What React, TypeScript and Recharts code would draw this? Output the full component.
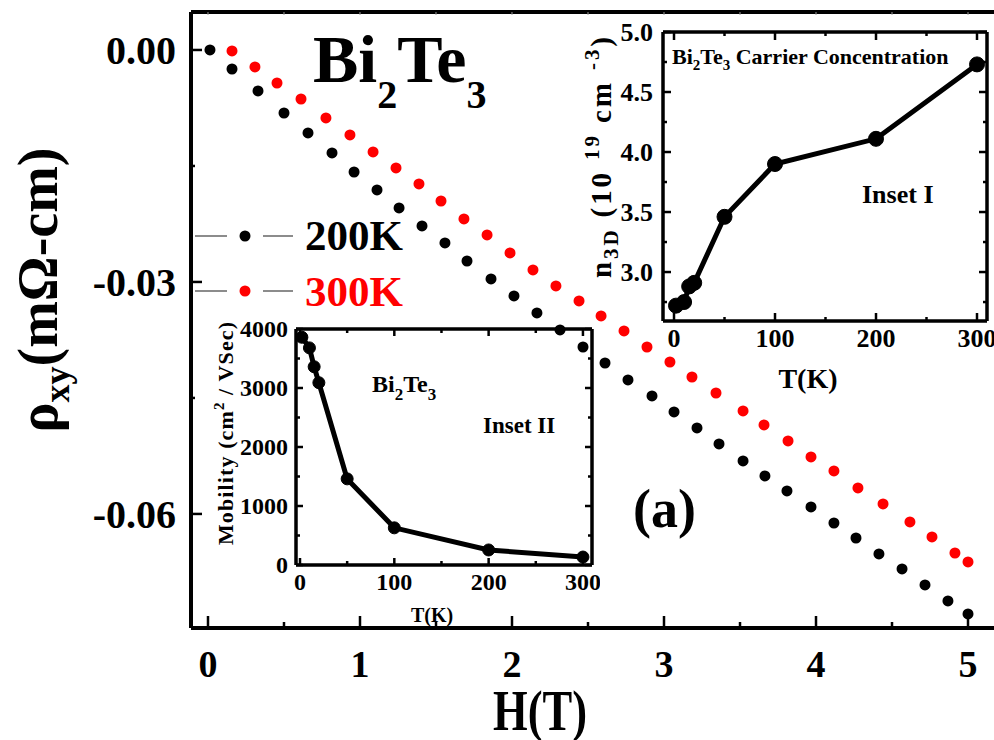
import React from 'react'
import { ScatterChart, Scatter, XAxis, YAxis, ReferenceLine, LineChart, Line } from 'recharts'

// Hall resistivity vs field
const fieldH200 = [0.013, 0.158, 0.329, 0.5, 0.658, 0.816, 0.961, 1.112, 1.257, 1.408, 1.559, 1.704, 1.862, 2.013, 2.164, 2.316, 2.467, 2.612, 2.763, 2.921, 3.066, 3.217, 3.362, 3.52, 3.664, 3.809, 3.967, 4.118, 4.263, 4.414, 4.566, 4.717, 4.868, 5.0]
const rho200 = [0, -0.00246, -0.0053, -0.00815, -0.01073, -0.01332, -0.01578, -0.0181, -0.02043, -0.02276, -0.02496, -0.02729, -0.02961, -0.03181, -0.03401, -0.03621, -0.03841, -0.04048, -0.04267, -0.04474, -0.04681, -0.04888, -0.05095, -0.05315, -0.05509, -0.05703, -0.0591, -0.06117, -0.06311, -0.06517, -0.06711, -0.06918, -0.07125, -0.07293]
const fieldH300 = [0.158, 0.309, 0.454, 0.612, 0.776, 0.934, 1.086, 1.237, 1.388, 1.533, 1.684, 1.836, 1.987, 2.138, 2.289, 2.441, 2.586, 2.737, 2.888, 3.039, 3.184, 3.342, 3.52, 3.658, 3.816, 3.967, 4.118, 4.276, 4.441, 4.618, 4.763, 4.914, 5.0]
const rho300 = [-0.00013, -0.0022, -0.00427, -0.00634, -0.00879, -0.01099, -0.01319, -0.01526, -0.01733, -0.01953, -0.02185, -0.02392, -0.02625, -0.02845, -0.03052, -0.03246, -0.0344, -0.03634, -0.03841, -0.04035, -0.04229, -0.04436, -0.04668, -0.04849, -0.05056, -0.05263, -0.05444, -0.05664, -0.05871, -0.06104, -0.06298, -0.06505, -0.06621]

// insets
const tempK = [2, 10, 15, 20, 50, 100, 200, 300]
const carrierN = [2.72, 2.75, 2.88, 2.91, 3.46, 3.9, 4.11, 4.73]
const mobility = [3860, 3680, 3360, 3090, 1460, 630, 255, 135]

const mainXTicks = [0, 0.5, 1, 1.5, 2, 2.5, 3, 3.5, 4, 4.5, 5]
const mainYTicks = [0, -0.015, -0.03, -0.045, -0.06]
const tTicks = [0, 50, 100, 150, 200, 250, 300]
const nTicks = [2.75, 3, 3.25, 3.5, 3.75, 4, 4.25, 4.5, 4.75, 5]
const muTicks = [0, 500, 1000, 1500, 2000, 2500, 3000, 3500, 4000]

const FONT = "'Liberation Serif', 'Times New Roman', serif"

const isMult = (v: number, step: number) => Math.abs(v / step - Math.round(v / step)) < 1e-6

function BottomTick(p: any) {
  const { x, y, payload, step, major, minor, plotH, fontSize, dy, fmt, topColor, topLen } = p
  const big = isMult(payload.value, step)
  const len = big ? major : minor
  return (
    <g>
      <line x1={x} x2={x} y1={y} y2={y - len} stroke="#000" strokeWidth={2.5} />
      <line x1={x} x2={x} y1={y - plotH} y2={y - plotH + (topLen ?? len)} stroke={topColor ?? '#000'} strokeWidth={topColor ? 1 : 2.5} />
      {big && (
        <text x={x} y={y + dy} textAnchor="middle" fontFamily={FONT} fontWeight="bold" fontSize={fontSize} fill="#000">
          {fmt(payload.value)}
        </text>
      )}
    </g>
  )
}

function LeftTick(p: any) {
  const { x, y, payload, step, major, minor, plotW, fontSize, dx, dy, fmt } = p
  const big = isMult(payload.value, step)
  const len = big ? major : minor
  return (
    <g>
      <line x1={x} x2={x + len} y1={y} y2={y} stroke="#000" strokeWidth={2.5} />
      {plotW > 0 && <line x1={x + plotW} x2={x + plotW - len} y1={y} y2={y} stroke="#000" strokeWidth={2.5} />}
      {big && (
        <text x={x - dx} y={y + dy} textAnchor="end" fontFamily={FONT} fontWeight="bold" fontSize={fontSize} fill="#000">
          {fmt(payload.value)}
        </text>
      )}
    </g>
  )
}

const dotShape = (color: string) => (p: any) => <circle cx={p.cx} cy={p.cy} r={5.5} fill={color} />

export default function App() {
  const data200 = fieldH200.map((h, i) => ({ h, rho: rho200[i] }))
  const data300 = fieldH300.map((h, i) => ({ h, rho: rho300[i] }))
  const dataN = tempK.map((t, i) => ({ t, n: carrierN[i] }))
  const dataMu = tempK.map((t, i) => ({ t, mu: mobility[i] }))
  const txt = { fontFamily: FONT, fontWeight: 'bold' as const, fill: '#000' }

  return (
    <div style={{ position: 'absolute', left: 0, top: 0, width: 994, height: 740, background: '#fff', overflow: 'hidden' }}>
      <div style={{ position: 'absolute', left: 0, top: 0 }}>
        <ScatterChart width={994} height={740} margin={{ top: 12, right: 0, left: 0, bottom: 0 }}>
          <XAxis
            type="number" dataKey="h" domain={[-0.1118, 5.171]} allowDataOverflow ticks={mainXTicks} interval={0}
            height={112} tickSize={0} tickMargin={0} tickLine={false}
            axisLine={{ stroke: '#000', strokeWidth: 4 }}
            tick={(p: any) => <BottomTick {...p} step={1} major={12} minor={6} plotH={616} fontSize={38} dy={49} fmt={(v: number) => String(v)} topColor="#999" topLen={3} />}
          />
          <YAxis
            type="number" dataKey="rho" domain={[-0.07475, 0.00491]} allowDataOverflow ticks={mainYTicks} interval={0}
            width={191} tickSize={0} tickMargin={0} tickLine={false}
            axisLine={{ stroke: '#000', strokeWidth: 4 }}
            tick={(p: any) => <LeftTick {...p} step={0.03} major={11} minor={4} plotW={0} fontSize={40} dx={15} dy={14} fmt={(v: number) => v.toFixed(2)} />}
          />
          <ReferenceLine y={0.00491} stroke="#000" strokeWidth={4} />
          <Scatter data={data200} fill="#000" shape={dotShape('#000')} isAnimationActive={false} />
          <Scatter data={data300} fill="#ff0000" shape={dotShape('#ff0000')} isAnimationActive={false} />
        </ScatterChart>
      </div>

      {/* Inset I: carrier concentration */}
      <div style={{ position: 'absolute', left: 560, top: 0 }}>
        <LineChart width={434} height={400} data={dataN} margin={{ top: 32, right: 7, left: 0, bottom: 0 }}>
          <XAxis
            type="number" dataKey="t" domain={[-10.9, 309.9]} allowDataOverflow ticks={tTicks} interval={0}
            height={79} tickSize={0} tickMargin={0} tickLine={false}
            axisLine={{ stroke: '#000', strokeWidth: 3.5 }}
            tick={(p: any) => <BottomTick {...p} step={100} major={8} minor={4} plotH={289} fontSize={26} dy={26} fmt={(v: number) => String(v)} />}
          />
          <YAxis
            type="number" domain={[2.592, 5.0]} allowDataOverflow ticks={nTicks} interval={0}
            width={103} tickSize={0} tickMargin={0} tickLine={false}
            axisLine={{ stroke: '#000', strokeWidth: 3.5 }}
            tick={(p: any) => <LeftTick {...p} step={0.5} major={8} minor={4} plotW={324} fontSize={26} dx={10} dy={9} fmt={(v: number) => v.toFixed(1)} />}
          />
          <ReferenceLine y={5.0} stroke="#000" strokeWidth={3.5} />
          <ReferenceLine x={309.9} stroke="#000" strokeWidth={3.5} />
          <Line dataKey="n" stroke="#000" strokeWidth={5} dot={{ r: 7.5, fill: '#000', stroke: '#000', strokeWidth: 1 }} isAnimationActive={false} />
        </LineChart>
      </div>

      {/* Inset II: mobility */}
      <div style={{ position: 'absolute', left: 190, top: 310 }}>
        <LineChart width={410} height={330} data={dataMu} margin={{ top: 19, right: 8, left: 0, bottom: 0 }}>
          <XAxis
            type="number" dataKey="t" domain={[-4.24, 309.6]} allowDataOverflow ticks={tTicks} interval={0}
            height={75} tickSize={0} tickMargin={0} tickLine={false}
            axisLine={{ stroke: '#000', strokeWidth: 3.5 }}
            tick={(p: any) => <BottomTick {...p} step={100} major={7} minor={4} plotH={236} fontSize={24} dy={25} fmt={(v: number) => String(v)} />}
          />
          <YAxis
            type="number" domain={[0, 4000]} allowDataOverflow ticks={muTicks} interval={0}
            width={106} tickSize={0} tickMargin={0} tickLine={false}
            axisLine={{ stroke: '#000', strokeWidth: 3.5 }}
            tick={(p: any) => <LeftTick {...p} step={1000} major={7} minor={4} plotW={296} fontSize={24} dx={8} dy={8} fmt={(v: number) => String(v)} />}
          />
          <ReferenceLine y={4000} stroke="#000" strokeWidth={3.5} />
          <ReferenceLine x={309.6} stroke="#000" strokeWidth={3.5} />
          <Line dataKey="mu" stroke="#000" strokeWidth={5} dot={{ r: 6, fill: '#000', stroke: '#000', strokeWidth: 1 }} isAnimationActive={false} />
        </LineChart>
      </div>

      {/* labels, title, legend */}
      <svg width={994} height={740} style={{ position: 'absolute', left: 0, top: 0, pointerEvents: 'none' }}>
        <text {...txt} x={313} y={82} fontSize={68}>
          Bi<tspan fontSize={40} dy={26}>2</tspan><tspan dy={-26}>Te</tspan><tspan fontSize={40} dy={26}>3</tspan>
        </text>

        <line x1={195} x2={227} y1={236} y2={236} stroke="#666" strokeWidth={1.5} />
        <line x1={263} x2={293} y1={236} y2={236} stroke="#666" strokeWidth={1.5} />
        <circle cx={245} cy={236} r={5.5} fill="#000" />
        <text {...txt} x={305} y={250} fontSize={43}>200K</text>
        <line x1={195} x2={227} y1={291} y2={291} stroke="#666" strokeWidth={1.5} />
        <line x1={263} x2={293} y1={291} y2={291} stroke="#666" strokeWidth={1.5} />
        <circle cx={245} cy={291} r={5.5} fill="#ff0000" />
        <text {...txt} x={305} y={306} fontSize={43} fill="#ff0000">300K</text>

        <text {...txt} x={633} y={527} fontSize={54}>(a)</text>

        <text {...txt} x={493} y={730} fontSize={57} textLength={94} lengthAdjust="spacingAndGlyphs">H(T)</text>
        <text {...txt} transform="translate(57,290) rotate(-90)" textAnchor="middle" fontSize={56}>
          ρ<tspan fontSize={36} dy={12}>xy</tspan><tspan dy={-12}>(mΩ-cm)</tspan>
        </text>

        {/* inset I texts */}
        <text {...txt} x={672} y={64} fontSize={22}>
          Bi<tspan fontSize={15} dy={6}>2</tspan><tspan dy={-6}>Te</tspan><tspan fontSize={15} dy={6}>3</tspan><tspan dy={-6}> Carrier Concentration</tspan>
        </text>
        <text {...txt} x={862} y={203} fontSize={26}>Inset I</text>
        <text {...txt} x={808} y={388} fontSize={28} textAnchor="middle">T(K)</text>
        <text {...txt} transform="translate(611,278) rotate(-90)" x={0} y={0} fontSize={29} textLength={241} lengthAdjust="spacing">
          n<tspan fontSize={21} dy={7}>3D</tspan><tspan dy={-7}> (10 </tspan><tspan fontSize={21} dy={-12}>19</tspan><tspan dy={12}> cm </tspan><tspan fontSize={21} dy={-12}>-3</tspan><tspan dy={12}>)</tspan>
        </text>

        {/* inset II texts */}
        <text {...txt} x={372} y={392} fontSize={24}>
          Bi<tspan fontSize={17} dy={8}>2</tspan><tspan dy={-8}>Te</tspan><tspan fontSize={17} dy={8}>3</tspan>
        </text>
        <text {...txt} x={483} y={433} fontSize={23}>Inset II</text>
        <text {...txt} x={432} y={622} fontSize={20} textAnchor="middle">T(K)</text>
        <text {...txt} transform="translate(233,545) rotate(-90)" x={0} y={0} fontSize={22} textLength={223} lengthAdjust="spacing">
          Mobility  (cm<tspan fontSize={15} dy={-9}>2</tspan><tspan dy={9}> / VSec)</tspan>
        </text>
      </svg>
    </div>
  )
}
